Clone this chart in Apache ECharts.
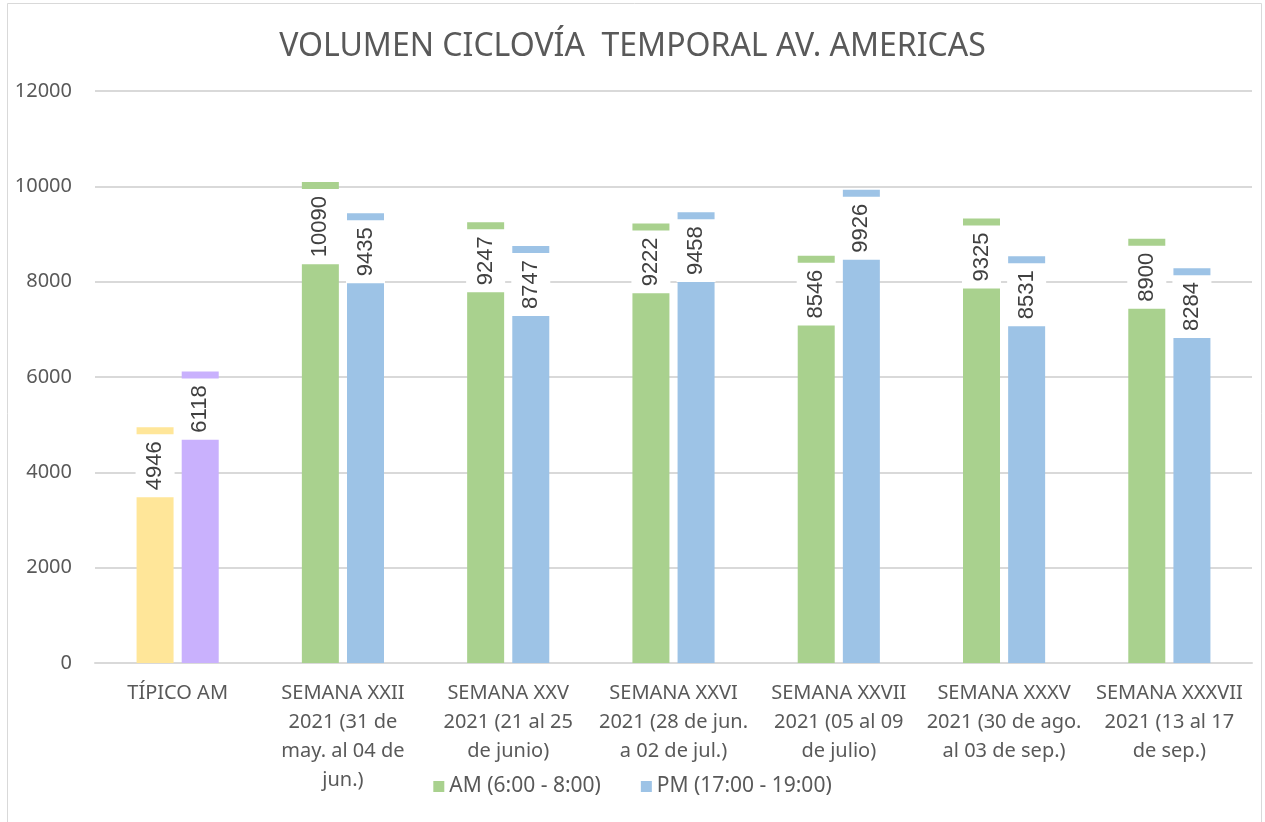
<!DOCTYPE html>
<html>
<head>
<meta charset="utf-8">
<script src="https://cdn.jsdelivr.net/npm/echarts@6/dist/echarts.min.js"></script>
<style>
  html, body { margin: 0; padding: 0; background: #fff; }
  #chart { width: 1265px; height: 822px; }
</style>
</head>
<body>
<div id="chart"></div>
<script>
var categories = [
    'TÍPICO AM',
    'SEMANA XXII\n2021 (31 de\nmay. al 04 de\njun.)',
    'SEMANA XXV\n2021 (21 al 25\nde junio)',
    'SEMANA XXVI\n2021 (28 de jun.\na 02 de jul.)',
    'SEMANA XXVII\n2021 (05 al 09\nde julio)',
    'SEMANA XXXV\n2021 (30 de ago.\nal 03 de sep.)',
    'SEMANA XXXVII\n2021 (13 al 17\nde sep.)'
];
var amValues = [4946, 10090, 9247, 9222, 8546, 9325, 8900];
var pmValues = [6118, 9435, 8747, 9458, 9926, 8531, 8284];

var amColor = '#A9D18E';
var pmColor = '#9DC3E6';
var tipicoAmColor = '#FFE699';
var tipicoPmColor = '#C9B1FD';

// el primer grupo (típico) va con otros colores
function withColors(values, firstColor) {
    return values.map(function (v, i) {
        if (i === 0) {
            return { value: v, itemStyle: { color: firstColor } };
        }
        return v;
    });
}

var barLabel = {
    show: true,
    position: 'insideTop',
    rotate: 90,
    align: 'right',
    verticalAlign: 'middle',
    distance: 7,
    color: '#404040',
    fontFamily: 'Liberation Sans',
    fontSize: 22,
    lineHeight: 23,
    backgroundColor: '#fff',
    padding: [8, 7]
};

var myChart = echarts.init(document.getElementById('chart'));
myChart.setOption({
    backgroundColor: '#fff',
    animation: false,
    graphic: [{
        type: 'rect',
        shape: { x: 7.5, y: 3.5, width: 1254, height: 830 },
        style: { fill: 'none', stroke: '#d9d9d9', lineWidth: 1 },
        silent: true
    }],
    title: {
        text: 'VOLUMEN CICLOVÍA  TEMPORAL AV. AMERICAS',
        left: 'center',
        top: 26,
        textStyle: {
            color: '#595959',
            fontFamily: 'Noto Sans',
            fontWeight: 'normal',
            fontSize: 32
        }
    },
    legend: {
        bottom: 20,
        left: 'center',
        itemWidth: 11,
        itemHeight: 11,
        itemGap: 40,
        icon: 'rect',
        textStyle: { color: '#595959', fontFamily: 'Noto Sans', fontSize: 21 },
        data: ['AM (6:00 - 8:00)', 'PM (17:00 - 19:00)']
    },
    grid: {
        left: 95,
        right: 13,
        top: 91,
        bottom: 159
    },
    xAxis: {
        type: 'category',
        data: categories,
        axisLine: { lineStyle: { color: '#d9d9d9', width: 2 } },
        axisTick: { show: false },
        axisLabel: {
            color: '#595959',
            fontFamily: 'Noto Sans',
            fontSize: 20,
            lineHeight: 29,
            margin: 16,
            interval: 0
        }
    },
    yAxis: {
        type: 'value',
        min: 0,
        max: 12000,
        interval: 2000,
        axisLine: { show: false },
        axisTick: { show: false },
        splitLine: { lineStyle: { color: '#d9d9d9', width: 2 } },
        axisLabel: {
            color: '#595959',
            fontFamily: 'Noto Sans',
            fontSize: 20,
            margin: 23,
            formatter: function (v) { return String(v); }
        }
    },
    series: [
        {
            name: 'AM (6:00 - 8:00)',
            type: 'bar',
            data: withColors(amValues, tipicoAmColor),
            itemStyle: { color: amColor },
            barWidth: 37,
            barGap: '22%',
            label: barLabel
        },
        {
            name: 'PM (17:00 - 19:00)',
            type: 'bar',
            data: withColors(pmValues, tipicoPmColor),
            itemStyle: { color: pmColor },
            barWidth: 37,
            label: barLabel
        }
    ]
});
</script>
</body>
</html>
